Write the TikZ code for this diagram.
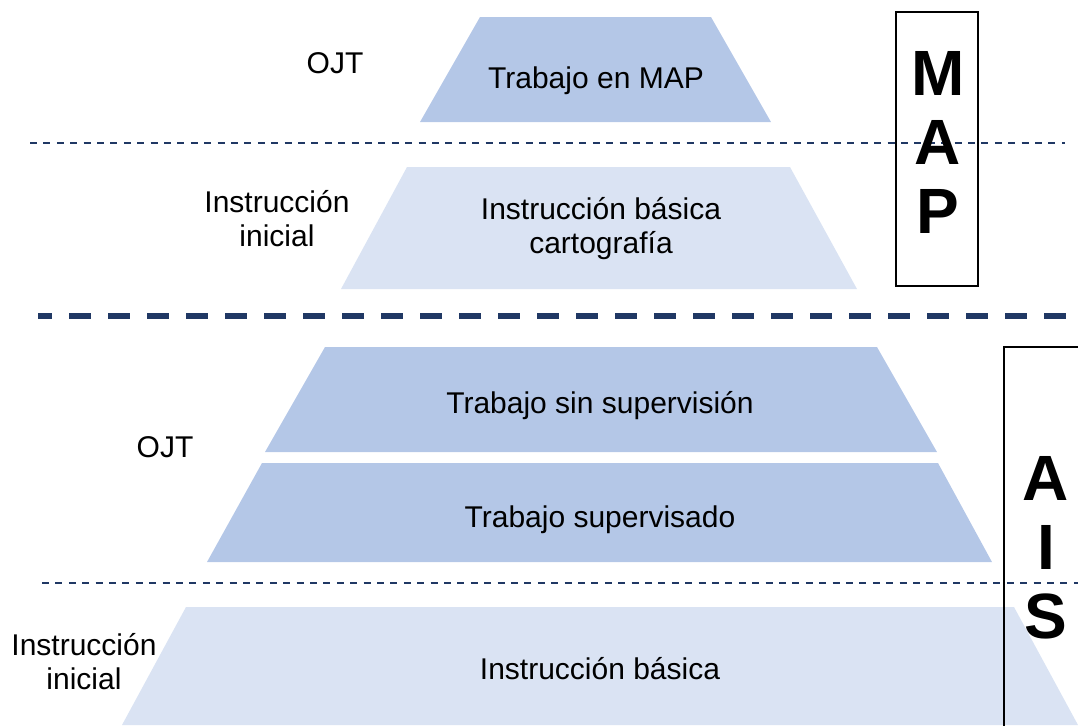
\documentclass[tikz,border=0pt]{standalone}
\usepackage{fontspec}
\setmainfont{Liberation Sans}
\usetikzlibrary{positioning}
\definecolor{azulmedio}{RGB}{180,199,231}
\definecolor{azulclaro}{RGB}{218,227,243}
\definecolor{azuloscuro}{RGB}{32,56,100}
\tikzstyle{texto} = [inner sep=0pt, anchor=base, align=center,
font=\fontsize{15}{16.7}\selectfont]
\tikzstyle{letras} = [inner sep=0pt, anchor=base, align=center,
font=\fontsize{32}{34.5}\selectfont\bfseries]
\tikzstyle{separa} = [draw=azuloscuro, line width=1pt, dash pattern=on 3.5pt off 3.2pt]
\tikzstyle{divide} = [draw=azuloscuro, line width=3pt, dash pattern=on 11pt off 8.5pt, dash phase=4pt]
\tikzstyle{caja} = [draw=black, line width=1pt]

\begin{document}
\begin{tikzpicture}[x=0.5pt, y=-0.5pt]
	\useasboundingbox (0,0) rectangle (1078,725);
	\clip (0,0) rectangle (1078,725);
	% Pyramid levels
	\fill [azulmedio] (480,17) -- (711,17) -- (771,122) -- (420,122) -- cycle;
	\fill [azulclaro] (407,167) -- (790,167) -- (857,289) -- (341,289) -- cycle;
	\fill [azulmedio] (325,347) -- (877,347) -- (937,452) -- (265,452) -- cycle;
	\fill [azulmedio] (262,463) -- (938,463) -- (992,562) -- (207,562) -- cycle;
	\fill [azulclaro] (186,607) -- (1014,607) -- (1078,725) -- (122,725) -- cycle;
	
	% Separators
	\path [separa] (30,143) -- (1065,143);
	\path [divide] (38,316) -- (1078,316);
	\path [separa] (42,583) -- (1078,583);
	
	% Place nodes (base = last line)
	\node [texto] (mapTrabajo) at (596,88) {Trabajo en MAP};
	\node [texto] (mapBasica) at (601,253) {Instrucción básica\\cartografía};
	\node [texto] (aisSinSup) at (600,413) {Trabajo sin supervisión};
	\node [texto] (aisSup) at (600,527) {Trabajo supervisado};
	\node [texto] (aisBasica) at (600,679) {Instrucción básica};
	
	\node [texto] (ojtMap) at (335,73) {OJT};
	\node [texto] (iniMap) at (277,246) {Instrucción\\inicial};
	\node [texto] (ojtAis) at (165,457) {OJT};
	\node [texto] (iniAis) at (84,689) {Instrucción\\inicial};
	
	% Side boxes
	\draw [caja] (896,12) rectangle (978,286);
	\draw [caja] (1004,347) rectangle (1090,740);
	\node [letras] (map) at (938,233) {M\\A\\P};
	\node [letras] (ais) at (1046,638) {A\\I\\S};
\end{tikzpicture}
\end{document}
